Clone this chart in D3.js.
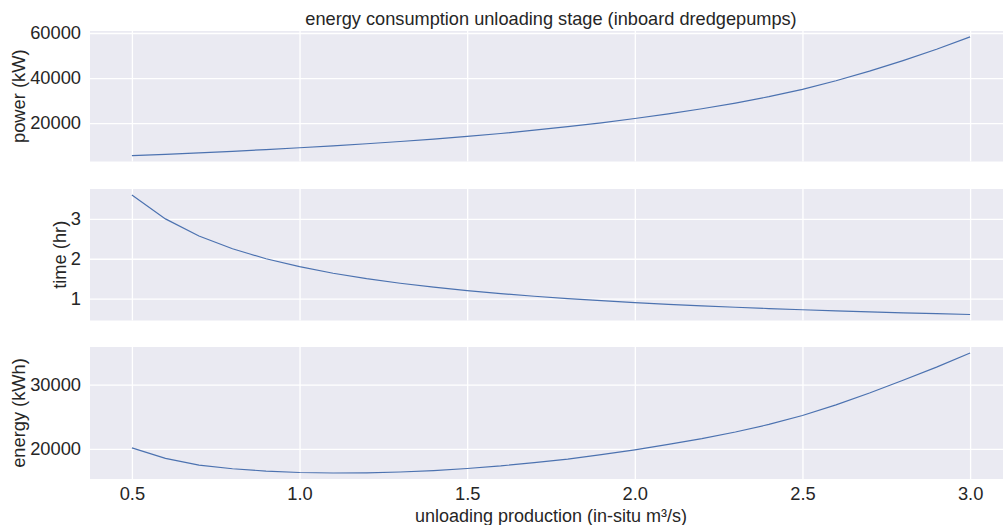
<!DOCTYPE html>
<html>
<head>
<meta charset="utf-8">
<script src="https://cdn.jsdelivr.net/npm/d3@7"></script>
<style>
  html, body { margin: 0; padding: 0; background: #ffffff; }
  svg { display: block; font-family: Arial, "Liberation Sans", sans-serif; }
</style>
</head>
<body>
<svg id="chart" width="1003" height="525"></svg>
<script>
// Unloading production (in-situ m³/s)
const production = [0.5, 0.6, 0.7, 0.8, 0.9, 1.0, 1.1, 1.2, 1.3, 1.4, 1.5, 1.6, 1.7,
                    1.8, 1.9, 2.0, 2.1, 2.2, 2.3, 2.4, 2.5, 2.6, 2.7, 2.8, 2.9, 3.0];

// Power drawn by the inboard dredge pumps (kW)
const power = [5597, 6167, 6786, 7502, 8260, 9056, 9912, 10833, 11830, 12911, 14100,
               15396, 16858, 18400, 20140, 22044, 24127, 26376, 28903, 31733, 35000,
               38783, 43050, 47756, 52764, 58250];

// Time needed to unload (hr)
const time = [3.6, 3.0, 2.571, 2.25, 2.0, 1.8, 1.636, 1.5, 1.385, 1.286, 1.2, 1.125,
              1.059, 1.0, 0.947, 0.9, 0.857, 0.818, 0.783, 0.75, 0.72, 0.692, 0.667,
              0.643, 0.621, 0.6];

// Energy per unloading (kWh)
const energy = [20150, 18500, 17450, 16880, 16520, 16300, 16220, 16250, 16380, 16600,
                16920, 17320, 17850, 18400, 19080, 19840, 20680, 21580, 22620, 23800,
                25200, 26850, 28700, 30700, 32750, 34950];

const xTicks = [0.5, 1.0, 1.5, 2.0, 2.5, 3.0];
const powerTicks = [20000, 40000, 60000];
const timeTicks = [1, 2, 3];
const energyTicks = [20000, 30000];

const titleText = "energy consumption unloading stage (inboard dredgepumps)";
const xLabelText = "unloading production (in-situ m³/s)";

const panels = [
  { values: power,  ticks: powerTicks,  label: "power (kW)",   top: 31,  bottom: 161.5 },
  { values: time,   ticks: timeTicks,   label: "time (hr)",    top: 189, bottom: 320.5 },
  { values: energy, ticks: energyTicks, label: "energy (kWh)", top: 347, bottom: 479 }
];

const svg = d3.select("#chart");
const left = 90, right = 1012;
const textColor = "#262626";
const bg = "#EAEAF2";
const lineColor = "#4C72B0";
const tickFont = 18.3;

// shared x scale with a 5% margin around the data range
const xExt = d3.extent(production);
const xPad = (xExt[1] - xExt[0]) * 0.05;
const x = d3.scaleLinear().domain([xExt[0] - xPad, xExt[1] + xPad]).range([left, right]);

panels.forEach((p, i) => {
  const ext = d3.extent(p.values);
  const pad = (ext[1] - ext[0]) * 0.05;
  const y = d3.scaleLinear().domain([ext[0] - pad, ext[1] + pad]).range([p.bottom, p.top]);

  const g = svg.append("g");
  g.append("rect")
    .attr("x", left).attr("y", p.top)
    .attr("width", right - left).attr("height", p.bottom - p.top)
    .attr("fill", bg);

  // horizontal grid + y tick labels
  const yAxis = g.append("g")
    .attr("transform", `translate(${left},0)`)
    .call(d3.axisLeft(y).tickValues(p.ticks).tickSize(-(right - left)).tickPadding(9).tickFormat(d3.format("d")));
  yAxis.select(".domain").remove();
  yAxis.selectAll(".tick line").attr("stroke", "#ffffff").attr("stroke-width", 1.3);
  yAxis.selectAll(".tick text").attr("fill", textColor).style("font-size", tickFont + "px")
    .attr("font-family", "Arial, 'Liberation Sans', sans-serif");

  // vertical grid
  const xAxis = g.append("g")
    .attr("transform", `translate(0,${p.bottom})`)
    .call(d3.axisBottom(x).tickValues(xTicks).tickSize(-(p.bottom - p.top)).tickPadding(8)
      .tickFormat(i === panels.length - 1 ? d3.format(".1f") : () => ""));
  xAxis.select(".domain").remove();
  xAxis.selectAll(".tick line").attr("stroke", "#ffffff").attr("stroke-width", 1.3);
  xAxis.selectAll(".tick text").attr("fill", textColor).style("font-size", tickFont + "px")
    .attr("font-family", "Arial, 'Liberation Sans', sans-serif");

  // data line
  const line = d3.line().x((d, j) => x(production[j])).y(d => y(d));
  g.append("path")
    .datum(p.values)
    .attr("fill", "none")
    .attr("stroke", lineColor)
    .attr("stroke-width", 1.2)
    .attr("d", line);

  // y label placed just left of the widest tick label
  let minX = Infinity;
  yAxis.selectAll(".tick text").each(function () {
    const b = this.getBBox();
    const t = d3.select(this.parentNode).attr("transform");
    const tx = +/translate\(([^,]+)/.exec(t)[1];
    minX = Math.min(minX, left + tx + b.x);
  });
  g.append("text")
    .attr("transform", `translate(${minX - 5},${(p.top + p.bottom) / 2}) rotate(-90)`)
    .attr("text-anchor", "middle")
    .attr("fill", textColor)
    .style("font-size", tickFont + "px")
    .text(p.label);
});

svg.append("text")
  .attr("x", (left + right) / 2).attr("y", 25)
  .attr("text-anchor", "middle")
  .attr("fill", textColor)
  .style("font-size", "18.2px")
  .text(titleText);

svg.append("text")
  .attr("x", (left + right) / 2).attr("y", 521.5)
  .attr("text-anchor", "middle")
  .attr("fill", textColor)
  .style("font-size", "18px")
  .text(xLabelText);
</script>
</body>
</html>
